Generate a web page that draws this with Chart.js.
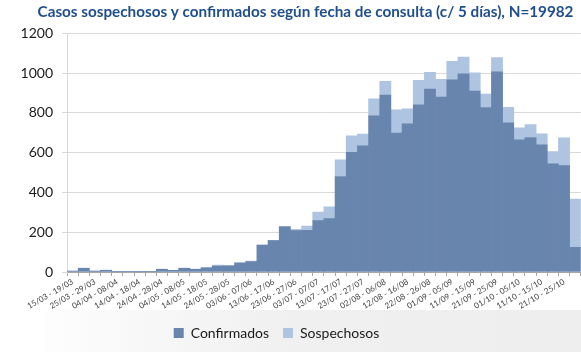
<!DOCTYPE html>
<html>
<script src="https://cdn.jsdelivr.net/npm/chart.js@4.4.1/dist/chart.umd.min.js"></script>
<style>
  body { margin: 0; background: white; }
</style>

<body>
  <canvas id="casos" width="581" height="352"></canvas>
  <script>
    const periods = [
      "15/03 - 19/03", "20/03 - 24/03", "25/03 - 29/03", "30/03 - 03/04",
      "04/04 - 08/04", "09/04 - 13/04", "14/04 - 18/04", "19/04 - 23/04",
      "24/04 - 28/04", "29/04 - 03/05", "04/05 - 08/05", "09/05 - 13/05",
      "14/05 - 18/05", "19/05 - 23/05", "24/05 - 28/05", "29/05 - 02/06",
      "03/06 - 07/06", "08/06 - 12/06", "13/06 - 17/06", "18/06 - 22/06",
      "23/06 - 27/06", "28/06 - 02/07", "03/07 - 07/07", "08/07 - 12/07",
      "13/07 - 17/07", "18/07 - 22/07", "23/07 - 27/07", "28/07 - 01/08",
      "02/08 - 06/08", "07/08 - 11/08", "12/08 - 16/08", "17/08 - 21/08",
      "22/08 - 26/08", "27/08 - 31/08", "01/09 - 05/09", "06/09 - 10/09",
      "11/09 - 15/09", "16/09 - 20/09", "21/09 - 25/09", "26/09 - 30/09",
      "01/10 - 05/10", "06/10 - 10/10", "11/10 - 15/10", "16/10 - 20/10",
      "21/10 - 25/10", "26/10 - 30/10"
    ];

    const confirmados = [
      5, 18, 4, 9, 2, 3, 3, 3, 14, 8, 18, 14, 21, 30, 31, 45,
      53, 135, 158, 227, 208, 209, 258, 268, 480, 602, 634, 785,
      890, 699, 745, 840, 920, 879, 966, 996, 910, 827, 1006, 750,
      664, 676, 639, 544, 535, 124
    ];

    const sospechosos = [
      0, 2, 0, 1, 0, 0, 0, 0, 1, 0, 2, 1, 1, 5, 1, 2,
      2, 0, 1, 2, 7, 22, 43, 60, 84, 82, 59, 85,
      69, 116, 75, 124, 84, 90, 93, 85, 91, 67, 72, 78,
      61, 65, 55, 62, 139, 242
    ];

    const yTicks = [0, 200, 400, 600, 800, 1000, 1200];

    // grey panel behind the legend + small nudges of title / legend
    const panel = {
      id: "panel",
      afterLayout(chart) {
        chart.titleBlock.left += 15;
        chart.titleBlock.right += 15;
        chart.legend.left -= 14;
        chart.legend.right -= 14;
        chart.legend.top = 312;
        chart.legend.bottom = 352;
      },
      beforeDraw(chart) {
        const ctx = chart.ctx;
        const g = ctx.createLinearGradient(45, 0, 581, 0);
        g.addColorStop(0, "#fdfdfd");
        g.addColorStop(0.45, "#f0f0f0");
        g.addColorStop(1, "#eeeeee");
        ctx.save();
        ctx.fillStyle = g;
        ctx.fillRect(45, 310, 536, 42);
        ctx.restore();
      }
    };

    new Chart("casos", {
      type: "bar",
      data: {
        labels: periods,
        datasets: [
          {
            label: "Confirmados",
            data: confirmados,
            backgroundColor: "#6885ad",
            barPercentage: 1,
            categoryPercentage: 1,
          },
          {
            label: "Sospechosos",
            data: sospechosos,
            backgroundColor: "#aec4e0",
            barPercentage: 1,
            categoryPercentage: 1,
          },
        ],
      },
      options: {
        responsive: false,
        animation: false,
        layout: { padding: 0 },
        plugins: {
          title: {
            display: true,
            text: "Casos sospechosos y confirmados según fecha de consulta (c/ 5 días), N=19982",
            color: "#1f4e8c",
            font: { family: "Lato", size: 15.25, weight: "bold" },
            padding: { top: 3, bottom: 12 },
          },
          legend: {
            position: "bottom",
            labels: {
              color: "#1a1a1a",
              font: { family: "Lato", size: 14 },
              boxWidth: 10,
              boxHeight: 10,
              padding: 14,
            },
          },
          tooltip: { enabled: false },
        },
        scales: {
          x: {
            stacked: true,
            afterFit: (scale) => { scale.height = 42; },
            grid: {
              display: true,
              drawOnChartArea: false,
              drawTicks: true,
              tickLength: 4,
              color: "#a6a6a6",
              offset: true,
            },
            border: { color: "#a6a6a6" },
            ticks: {
              autoSkip: false,
              minRotation: 30,
              maxRotation: 30,
              padding: 1,
              color: "#404040",
              font: { family: "Lato", size: 8 },
              callback: (value, index) => (index % 2 === 0 ? periods[index] : ""),
            },
          },
          y: {
            stacked: true,
            min: 0,
            max: 1200,
            afterFit: (scale) => { scale.width = 67; },
            afterBuildTicks: (scale) => { scale.ticks = yTicks.map((v) => ({ value: v })); },
            grid: { color: "#d9d9d9", tickLength: 5 },
            border: { color: "#d9d9d9" },
            ticks: {
              padding: 9,
              color: "#1a1a1a",
              font: { family: "Lato", size: 14 },
              callback: (value) => String(value),
            },
          },
        },
      },
      plugins: [panel],
    });
  </script>
</body>

</html>
